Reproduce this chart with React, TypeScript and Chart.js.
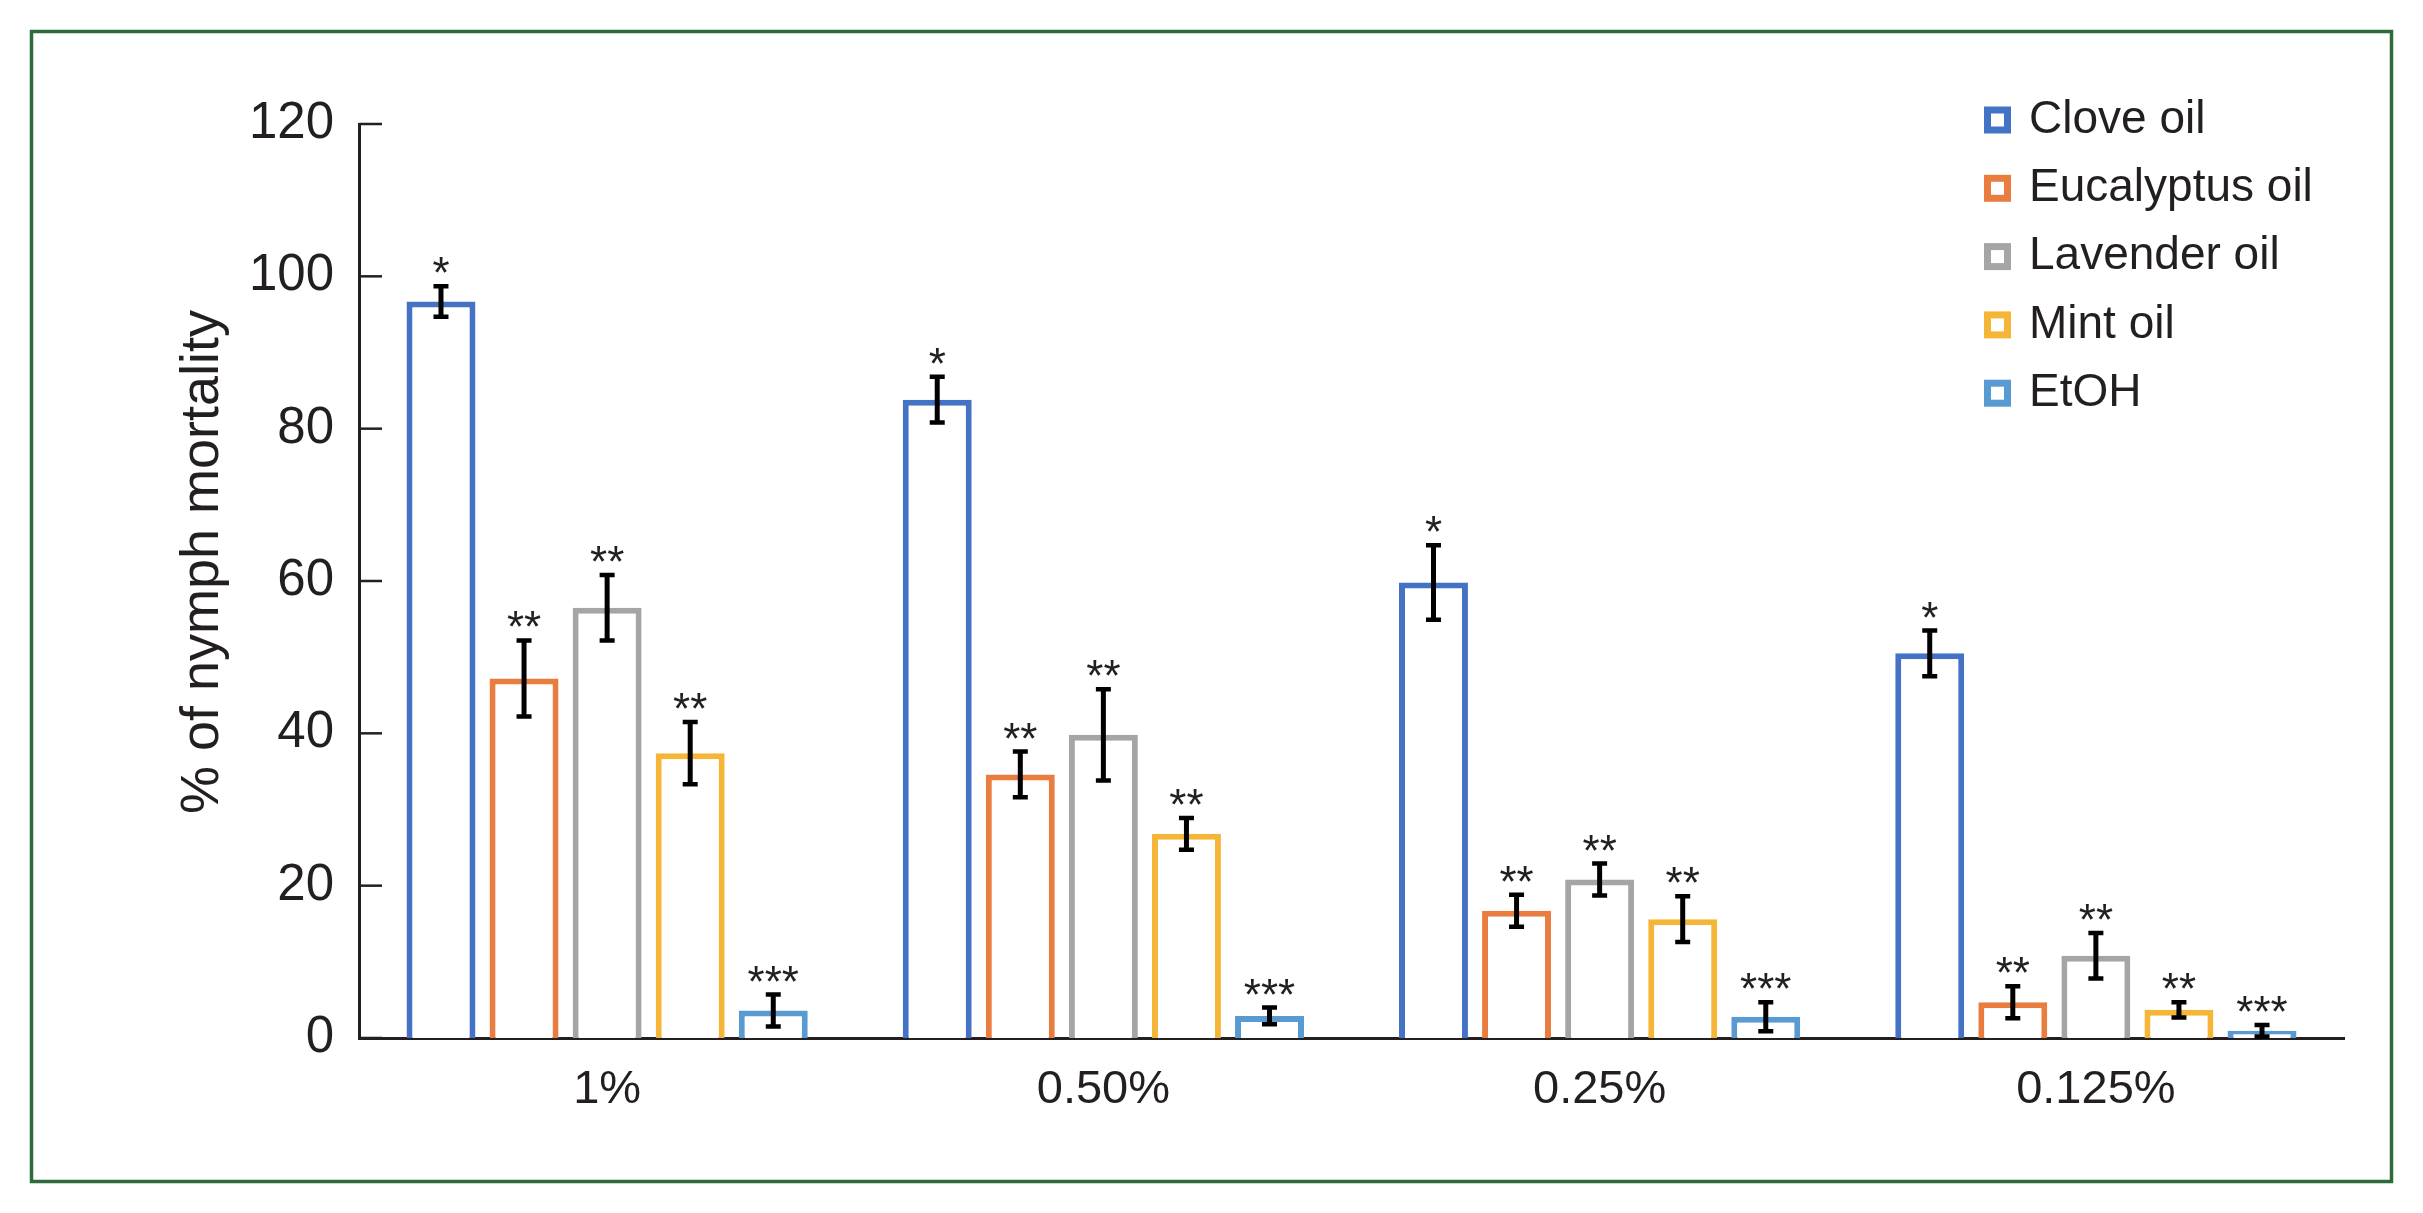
import React, { useEffect, useRef } from "react";
import { Chart, registerables } from "chart.js";

Chart.register(...registerables);

// ---------------- data ----------------
const categories = ["1%", "0.50%", "0.25%", "0.125%"];
const seriesNames = ["Clove oil", "Eucalyptus oil", "Lavender oil", "Mint oil", "EtOH"];
const seriesColors = ["#4472C4", "#E87D3F", "#A5A5A5", "#F5B536", "#5A9AD3"];

const cloveValues = [96.7, 83.8, 59.8, 50.5];
const eucalyptusValues = [47.2, 34.6, 16.7, 4.7];
const lavenderValues = [56.5, 39.8, 20.8, 10.8];
const mintValues = [37.4, 26.8, 15.6, 3.7];
const etohValues = [3.6, 2.9, 2.8, 0.95];

const cloveErrors = [2.0, 3.0, 4.9, 3.0];
const eucalyptusErrors = [5.0, 3.0, 2.1, 2.1];
const lavenderErrors = [4.3, 6.0, 2.1, 3.0];
const mintErrors = [4.1, 2.1, 3.0, 1.0];
const etohErrors = [2.1, 1.1, 1.9, 0.75];

const significance = ["*", "**", "**", "**", "***"];

const yMin = 0;
const yMax = 120;
const yStep = 20;
const yTitle = "% of nymph mortality";

const allValues = [cloveValues, eucalyptusValues, lavenderValues, mintValues, etohValues];
const allErrors = [cloveErrors, eucalyptusErrors, lavenderErrors, mintErrors, etohErrors];

const FONT = "'Liberation Sans', Arial, Helvetica, sans-serif";
const TEXT = "#231F20";

const decorPlugin = {
  id: "decor",
  beforeDraw(chart: any) {
    const ctx = chart.ctx;
    ctx.save();
    ctx.fillStyle = "#ffffff";
    ctx.fillRect(0, 0, chart.width, chart.height);
    ctx.strokeStyle = "#2E6B3A";
    ctx.lineWidth = 3.5;
    ctx.strokeRect(31.5, 31.5, chart.width - 63, chart.height - 63);
    ctx.restore();
  },
  afterDatasetsDraw(chart: any) {
    const ctx = chart.ctx;
    const yScale = chart.scales.y;
    ctx.save();
    chart.data.datasets.forEach((ds: any, i: number) => {
      const meta = chart.getDatasetMeta(i);
      meta.data.forEach((bar: any, j: number) => {
        const v = ds.data[j];
        const e = ds.errors[j];
        const x = bar.x;
        const yT = yScale.getPixelForValue(v + e);
        const yB = yScale.getPixelForValue(Math.max(v - e, 0));
        ctx.strokeStyle = "#000000";
        ctx.lineWidth = 5;
        ctx.beginPath();
        ctx.moveTo(x, yT);
        ctx.lineTo(x, yB);
        ctx.stroke();
        ctx.lineWidth = 4.5;
        ctx.beginPath();
        ctx.moveTo(x - 7.5, yT);
        ctx.lineTo(x + 7.5, yT);
        ctx.moveTo(x - 7.5, yB);
        ctx.lineTo(x + 7.5, yB);
        ctx.stroke();
        // significance mark
        ctx.fillStyle = TEXT;
        ctx.font = `44px ${FONT}`;
        ctx.textAlign = "center";
        ctx.textBaseline = "alphabetic";
        const m = ctx.measureText(ds.sig);
        const glyphBottomGap = 11;
        const baseline = yT - 2 - glyphBottomGap - m.actualBoundingBoxDescent;
        ctx.fillText(ds.sig, x, baseline);
      });
    });
    ctx.restore();
  },
  afterDraw(chart: any) {
    const ctx = chart.ctx;
    const ca = chart.chartArea;
    const yScale = chart.scales.y;
    ctx.save();
    // inward y tick marks
    ctx.strokeStyle = TEXT;
    ctx.lineWidth = 2.5;
    yScale.ticks.forEach((t: any) => {
      const py = yScale.getPixelForValue(t.value);
      ctx.beginPath();
      ctx.moveTo(ca.left, py);
      ctx.lineTo(ca.left + 23, py);
      ctx.stroke();
    });
    // y axis title
    ctx.save();
    ctx.translate(203, (ca.top + ca.bottom) / 2 - 19);
    ctx.rotate(-Math.PI / 2);
    ctx.fillStyle = TEXT;
    ctx.font = `54px ${FONT}`;
    ctx.textAlign = "center";
    ctx.textBaseline = "middle";
    ctx.fillText(yTitle, 0, 0);
    ctx.restore();
    // legend
    const x0 = ca.right - 360;
    const y0 = ca.top - 4;
    const rowH = 68.3;
    const box = 27;
    const bw = 7;
    chart.data.datasets.forEach((ds: any, i: number) => {
      const cy = y0 + i * rowH;
      ctx.fillStyle = "#ffffff";
      ctx.fillRect(x0, cy - box / 2, box, box);
      ctx.strokeStyle = ds.borderColor;
      ctx.lineWidth = bw;
      ctx.strokeRect(x0 + bw / 2, cy - box / 2 + bw / 2, box - bw, box - bw);
      ctx.fillStyle = TEXT;
      ctx.font = `46px ${FONT}`;
      ctx.textAlign = "left";
      ctx.textBaseline = "middle";
      ctx.fillText(ds.label, x0 + 45, cy);
    });
    ctx.restore();
  },
};

export default function App() {
  const canvasRef = useRef<HTMLCanvasElement | null>(null);

  useEffect(() => {
    if (!canvasRef.current) return;
    const datasets = seriesNames.map((name, i) => ({
      label: name,
      data: allValues[i],
      errors: allErrors[i],
      sig: significance[i],
      backgroundColor: "#ffffff",
      borderColor: seriesColors[i],
      borderWidth: 6,
      borderSkipped: "start",
      categoryPercentage: 0.837,
      barPercentage: 0.83,
    }));
    const chart = new Chart(canvasRef.current, {
      type: "bar",
      data: { labels: categories, datasets: datasets as any },
      options: {
        animation: false,
        responsive: false,
        devicePixelRatio: 1,
        layout: { padding: { left: 0, top: 124, right: 79, bottom: 75 } },
        plugins: {
          legend: { display: false },
          tooltip: { enabled: false },
        },
        scales: {
          x: {
            z: 1,
            grid: { display: false, drawTicks: false },
            border: { display: true, color: TEXT, width: 3 },
            ticks: { color: TEXT, font: { family: FONT, size: 47 }, padding: 24 },
            afterFit: (s: any) => {
              s.height = 100;
            },
          },
          y: {
            min: yMin,
            max: yMax,
            grid: { display: false, drawTicks: false },
            border: { display: true, color: TEXT, width: 3 },
            ticks: {
              stepSize: yStep,
              color: TEXT,
              font: { family: FONT, size: 51 },
              padding: 25,
            },
            afterFit: (s: any) => {
              s.width = 359;
            },
          },
        },
      },
      plugins: [decorPlugin],
    });
    return () => chart.destroy();
  }, []);

  return (
    <div style={{ position: "fixed", left: 0, top: 0, width: 2423, height: 1213, background: "#fff" }}>
      <canvas ref={canvasRef} width={2423} height={1213} style={{ width: 2423, height: 1213, display: "block" }} />
    </div>
  );
}
